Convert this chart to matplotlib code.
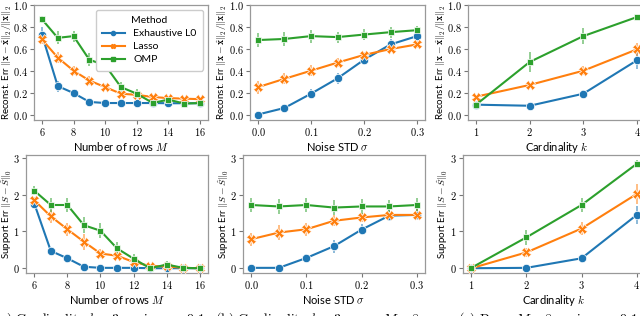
import numpy as np
import matplotlib
matplotlib.use("Agg")
import matplotlib.pyplot as plt
from matplotlib.lines import Line2D
from matplotlib.ticker import FuncFormatter

plt.rcParams["mathtext.fontset"] = "cm"
plt.rcParams["font.family"] = ["Lato", "DejaVu Sans"]

methods = ["Exhaustive L0", "Lasso", "OMP"]
colors = ["#1f77b4", "#ff7f0e", "#2ca02c"]
markers = ["o", "X", "s"]
msizes = [6, 6.5, 4.5]

rows_M = [6, 7, 8, 9, 10, 11, 12, 13, 14, 15, 16]
noise_sigma = [0.0, 0.05, 0.1, 0.15, 0.2, 0.25, 0.3]
card_k = [1, 2, 3, 4]

# reconstruction error vs rows M
rec_M_l0 = [0.73, 0.26, 0.196, 0.115, 0.105, 0.105, 0.105, 0.105, 0.103, 0.103, 0.103]
rec_M_l0_err = [0.07, 0.05, 0.03, 0.01, 0.01, 0.01, 0.01, 0.01, 0.01, 0.01, 0.01]
rec_M_lasso = [0.686, 0.52, 0.40, 0.31, 0.25, 0.19, 0.18, 0.16, 0.15, 0.145, 0.14]
rec_M_lasso_err = [0.04, 0.05, 0.04, 0.04, 0.03, 0.02, 0.01, 0.01, 0.01, 0.01, 0.01]
rec_M_omp = [0.87, 0.70, 0.716, 0.50, 0.45, 0.25, 0.19, 0.106, 0.136, 0.10, 0.105]
rec_M_omp_err = [0.03, 0.06, 0.05, 0.06, 0.06, 0.05, 0.04, 0.02, 0.03, 0.02, 0.02]

# reconstruction error vs noise sigma
rec_s_l0 = [0.0, 0.06, 0.19, 0.33, 0.50, 0.64, 0.716]
rec_s_l0_err = [0.005, 0.01, 0.04, 0.05, 0.05, 0.05, 0.04]
rec_s_lasso = [0.25, 0.326, 0.40, 0.474, 0.544, 0.598, 0.64]
rec_s_lasso_err = [0.06, 0.05, 0.05, 0.04, 0.03, 0.03, 0.03]
rec_s_omp = [0.68, 0.69, 0.716, 0.707, 0.73, 0.752, 0.77]
rec_s_omp_err = [0.06, 0.06, 0.06, 0.05, 0.05, 0.05, 0.04]

# reconstruction error vs cardinality k
rec_k_l0 = [0.09, 0.08, 0.19, 0.495]
rec_k_l0_err = [0.01, 0.01, 0.03, 0.08]
rec_k_lasso = [0.163, 0.27, 0.40, 0.595]
rec_k_lasso_err = [0.01, 0.02, 0.04, 0.06]
rec_k_omp = [0.09, 0.48, 0.716, 0.89]
rec_k_omp_err = [0.01, 0.09, 0.07, 0.02]

# support error vs rows M
sup_M_l0 = [1.76, 0.47, 0.27, 0.04, 0.01, 0.01, 0.01, 0.0, 0.0, 0.0, 0.0]
sup_M_l0_err = [0.1, 0.12, 0.12, 0.05, 0.02, 0.02, 0.02, 0.0, 0.0, 0.0, 0.0]
sup_M_lasso = [1.85, 1.41, 1.06, 0.72, 0.40, 0.34, 0.17, 0.06, 0.05, 0.01, 0.0]
sup_M_lasso_err = [0.1, 0.18, 0.18, 0.22, 0.12, 0.1, 0.08, 0.06, 0.05, 0.02, 0.0]
sup_M_omp = [2.11, 1.72, 1.72, 1.17, 1.02, 0.54, 0.26, 0.0, 0.10, 0.01, 0.0]
sup_M_omp_err = [0.12, 0.2, 0.18, 0.22, 0.2, 0.18, 0.12, 0.02, 0.1, 0.02, 0.0]

# support error vs noise sigma
sup_s_l0 = [0.01, 0.01, 0.28, 0.60, 1.05, 1.43, 1.45]
sup_s_l0_err = [0.02, 0.02, 0.1, 0.18, 0.15, 0.15, 0.15]
sup_s_lasso = [0.79, 0.97, 1.06, 1.29, 1.38, 1.45, 1.45]
sup_s_lasso_err = [0.18, 0.2, 0.18, 0.15, 0.12, 0.12, 0.15]
sup_s_omp = [1.72, 1.68, 1.72, 1.65, 1.68, 1.68, 1.72]
sup_s_omp_err = [0.18, 0.2, 0.18, 0.2, 0.2, 0.18, 0.18]

# support error vs cardinality k
sup_k_l0 = [0.0, 0.01, 0.27, 1.45]
sup_k_l0_err = [0.0, 0.02, 0.12, 0.25]
sup_k_lasso = [0.0, 0.43, 1.08, 2.02]
sup_k_lasso_err = [0.0, 0.12, 0.18, 0.28]
sup_k_omp = [0.01, 0.84, 1.72, 2.84]
sup_k_omp_err = [0.02, 0.2, 0.2, 0.1]

rec_label = r"Reconst. Err $\|\mathbf{x}-\hat{\mathbf{x}}\|_2/\|\mathbf{x}\|_2$"
sup_label = r"Support Err $\|S-\hat{S}\|_0$"

panels = [
    # (px box l, t, r, b), ylabel x px, x, series, errs, xlabel, ylabel, xlim, ylim, xticks, yticks, fmts
    ((34, 5, 208, 120), 7, rows_M, [rec_M_l0, rec_M_lasso, rec_M_omp],
     [rec_M_l0_err, rec_M_lasso_err, rec_M_omp_err], r"Number of rows $M$", rec_label,
     (5.5, 16.5), (-0.05, 1.0), [6, 8, 10, 12, 14, 16], np.arange(0, 1.01, 0.2), "%d", "%.1f"),
    ((250, 5, 425, 120), 222, noise_sigma, [rec_s_l0, rec_s_lasso, rec_s_omp],
     [rec_s_l0_err, rec_s_lasso_err, rec_s_omp_err], r"Noise STD $\sigma$", rec_label,
     (-0.015, 0.315), (-0.05, 1.0), [0, 0.1, 0.2, 0.3], np.arange(0, 1.01, 0.2), "%.1f", "%.1f"),
    ((468, 5, 645, 120), 441, card_k, [rec_k_l0, rec_k_lasso, rec_k_omp],
     [rec_k_l0_err, rec_k_lasso_err, rec_k_omp_err], r"Cardinality $k$", rec_label,
     (0.85, 4.15), (-0.05, 1.0), [1, 2, 3, 4], np.arange(0, 1.01, 0.2), "%d", "%.1f"),
    ((26, 155, 208, 273), 7, rows_M, [sup_M_l0, sup_M_lasso, sup_M_omp],
     [sup_M_l0_err, sup_M_lasso_err, sup_M_omp_err], r"Number of rows $M$", sup_label,
     (5.5, 16.5), (-0.13, 3.08), [6, 8, 10, 12, 14, 16], [0, 1, 2, 3], "%d", "%d"),
    ((243, 155, 425, 273), 224, noise_sigma, [sup_s_l0, sup_s_lasso, sup_s_omp],
     [sup_s_l0_err, sup_s_lasso_err, sup_s_omp_err], r"Noise STD $\sigma$", sup_label,
     (-0.015, 0.315), (-0.13, 3.08), [0, 0.1, 0.2, 0.3], [0, 1, 2, 3], "%.1f", "%d"),
    ((463, 155, 645, 273), 443, card_k, [sup_k_l0, sup_k_lasso, sup_k_omp],
     [sup_k_l0_err, sup_k_lasso_err, sup_k_omp_err], r"Cardinality $k$", sup_label,
     (0.85, 4.15), (-0.13, 3.08), [1, 2, 3, 4], [0, 1, 2, 3], "%d", "%d"),
]

W, H = 640, 316
fig = plt.figure(figsize=(W / 100, H / 100), dpi=100)

axes = []
for box, ylx, x, series, errs, xlab, ylab, xlim, ylim, xt, yt, xf, yf in panels:
    l, t, r, b = box
    ax = fig.add_axes([l / W, 1 - b / H, (r - l) / W, (b - t) / H])
    for y, e, c, m, ms in zip(series, errs, colors, markers, msizes):
        ax.errorbar(x, y, yerr=e, fmt="none", ecolor=c, elinewidth=1.3, alpha=0.55, zorder=2)
        ax.plot(x, y, color=c, lw=1.5, marker=m, ms=ms, mec="w", mew=0.5, zorder=3)
    ax.set_xlim(xlim)
    ax.set_ylim(ylim)
    ax.set_xticks(xt)
    ax.set_yticks(yt)
    ax.xaxis.set_major_formatter(FuncFormatter(lambda v, p, f=xf: "$" + (f % v) + "$"))
    ax.yaxis.set_major_formatter(FuncFormatter(lambda v, p, f=yf: "$" + (f % v) + "$"))
    ax.tick_params(labelsize=7.5, length=3, width=0.8, color="#777777", pad=1.5)
    for s in ax.spines.values():
        s.set_color("#999999")
        s.set_linewidth(0.9)
    ax.set_xlabel(xlab, fontsize=8, labelpad=1)
    ax.set_ylabel(ylab, fontsize=7, va="center")
    ax.yaxis.set_label_coords((ylx - l) / (r - l), 0.5)
    axes.append(ax)

handles = [Line2D([], [], color=c, lw=1.5, marker=m, ms=3) for c, m in zip(colors, markers)]
axes[0].legend(handles, methods, title="Method", loc="upper right", fontsize=7.5,
               title_fontsize=7.5, frameon=True, edgecolor="#cccccc", framealpha=1,
               borderpad=0.6, labelspacing=0.35, handlelength=2.2)

captions = [
    (100, r"$\mathrm{(a)\ Cardinality}\ k=3,\ \mathrm{noise}\ \sigma=0.1$"),
    (318, r"$\mathrm{(b)\ Cardinality}\ k=3,\ \mathrm{rows}\ M=8$"),
    (548, r"$\mathrm{(c)\ Rows}\ M=8,\ \mathrm{noise}\ \sigma=0.1$"),
]
for cx, txt in captions:
    fig.text(cx / W, 1 - 310 / H, txt, ha="center", va="top", fontsize=10)

fig.savefig("out.png", dpi=100)
